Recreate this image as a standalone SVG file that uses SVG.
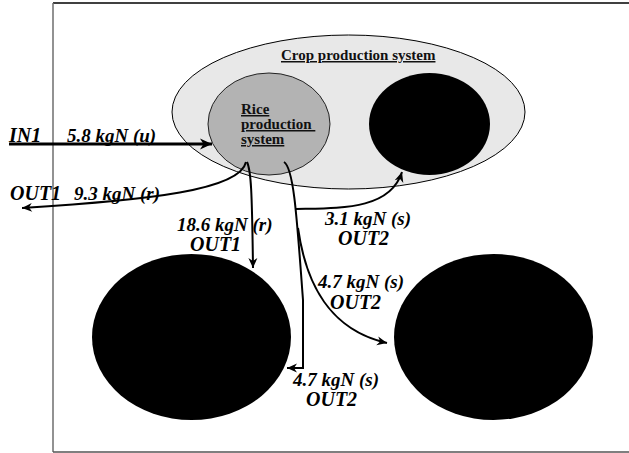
<svg xmlns="http://www.w3.org/2000/svg" width="629" height="453" viewBox="0 0 629 453">
<style>
  .lbl { font-family: "Liberation Serif", "Times New Roman", serif; font-weight: bold; font-style: italic; font-size: 19px; fill: #000; }
  .big { font-size: 20px; }
  .title { font-family: "Liberation Serif", "Times New Roman", serif; font-weight: bold; font-size: 15px; fill: #111; text-decoration: underline; }
  .conn { fill: none; stroke: #000; stroke-width: 2; marker-end: url(#arr); }
  .thick { stroke-width: 3; marker-end: url(#arrBig); }
  .blob { fill: #000; stroke: none; }
</style>
<defs>
  <marker id="arr" markerUnits="userSpaceOnUse" markerWidth="12" markerHeight="12" viewBox="0 0 12 12" refX="11" refY="6" orient="auto">
    <path d="M1,1.5 L11,6 L1,10.5 L4,6 Z" fill="#000"/>
  </marker>
  <marker id="arrBig" markerUnits="userSpaceOnUse" markerWidth="14" markerHeight="14" viewBox="0 0 14 14" refX="13" refY="7" orient="auto">
    <path d="M1,1.5 L13,7 L1,12.5 L4.5,7 Z" fill="#000"/>
  </marker>
</defs>

<!-- frame -->
<line x1="53" y1="3" x2="629" y2="3" stroke="#000" stroke-width="1.5"/>
<line x1="53" y1="3" x2="53" y2="452" stroke="#6e6e6e" stroke-width="1.5"/>
<line x1="53" y1="452" x2="629" y2="452" stroke="#555" stroke-width="1.5"/>

<g id="crop-production-system">
  <ellipse cx="348.5" cy="112" rx="176.5" ry="77" fill="#e8e8e8" stroke="#000" stroke-width="1"/>
  <text class="title" x="281" y="60">Crop production system</text>
</g>

<g id="rice-production-system">
  <ellipse cx="269" cy="124" rx="61" ry="51" fill="#b3b3b3" stroke="#222" stroke-width="1"/>
  <text class="title" x="241" y="114">Rice</text>
  <text class="title" x="241" y="129" xml:space="preserve">production </text>
  <text class="title" x="241" y="144">system</text>
</g>

<g id="crop-other">
  <ellipse class="blob" cx="429.5" cy="124" rx="60.5" ry="51"/>
</g>

<g id="bottom-left">
  <ellipse class="blob" cx="191.5" cy="337" rx="99.5" ry="83"/>
</g>

<g id="bottom-right">
  <ellipse class="blob" cx="493.5" cy="337" rx="99.5" ry="83"/>
</g>

<g id="connectors">
  <path class="conn thick" d="M9,144 L212,144"/>
  <path class="conn" d="M246,162 C240,190 150,200 22,208"/>
  <path class="conn" d="M247,162 C251,170 252,190 253,268"/>
  <path class="conn" d="M284,162 C294,168 297,220 303,300 L303,368 L287,368"/>
  <path class="conn" d="M296,209 C340,208 390,210 402,172"/>
  <path class="conn" d="M298,228 C306,285 330,330 387,343"/>
</g>

<g id="labels">
  <text class="lbl big" x="9" y="142">IN1</text>
  <text class="lbl" x="67" y="142">5.8 kgN (u)</text>
  <text class="lbl big" x="10" y="200">OUT1</text>
  <text class="lbl" x="74" y="200">9.3 kgN (r)</text>
  <text class="lbl" x="177" y="231">18.6 kgN (r)</text>
  <text class="lbl big" x="190" y="251">OUT1</text>
  <text class="lbl" x="325" y="225">3.1 kgN (s)</text>
  <text class="lbl big" x="338" y="245">OUT2</text>
  <text class="lbl" x="318" y="288">4.7 kgN (s)</text>
  <text class="lbl big" x="330" y="309">OUT2</text>
  <text class="lbl" x="293" y="386">4.7 kgN (s)</text>
  <text class="lbl big" x="306" y="406">OUT2</text>
</g>
</svg>
